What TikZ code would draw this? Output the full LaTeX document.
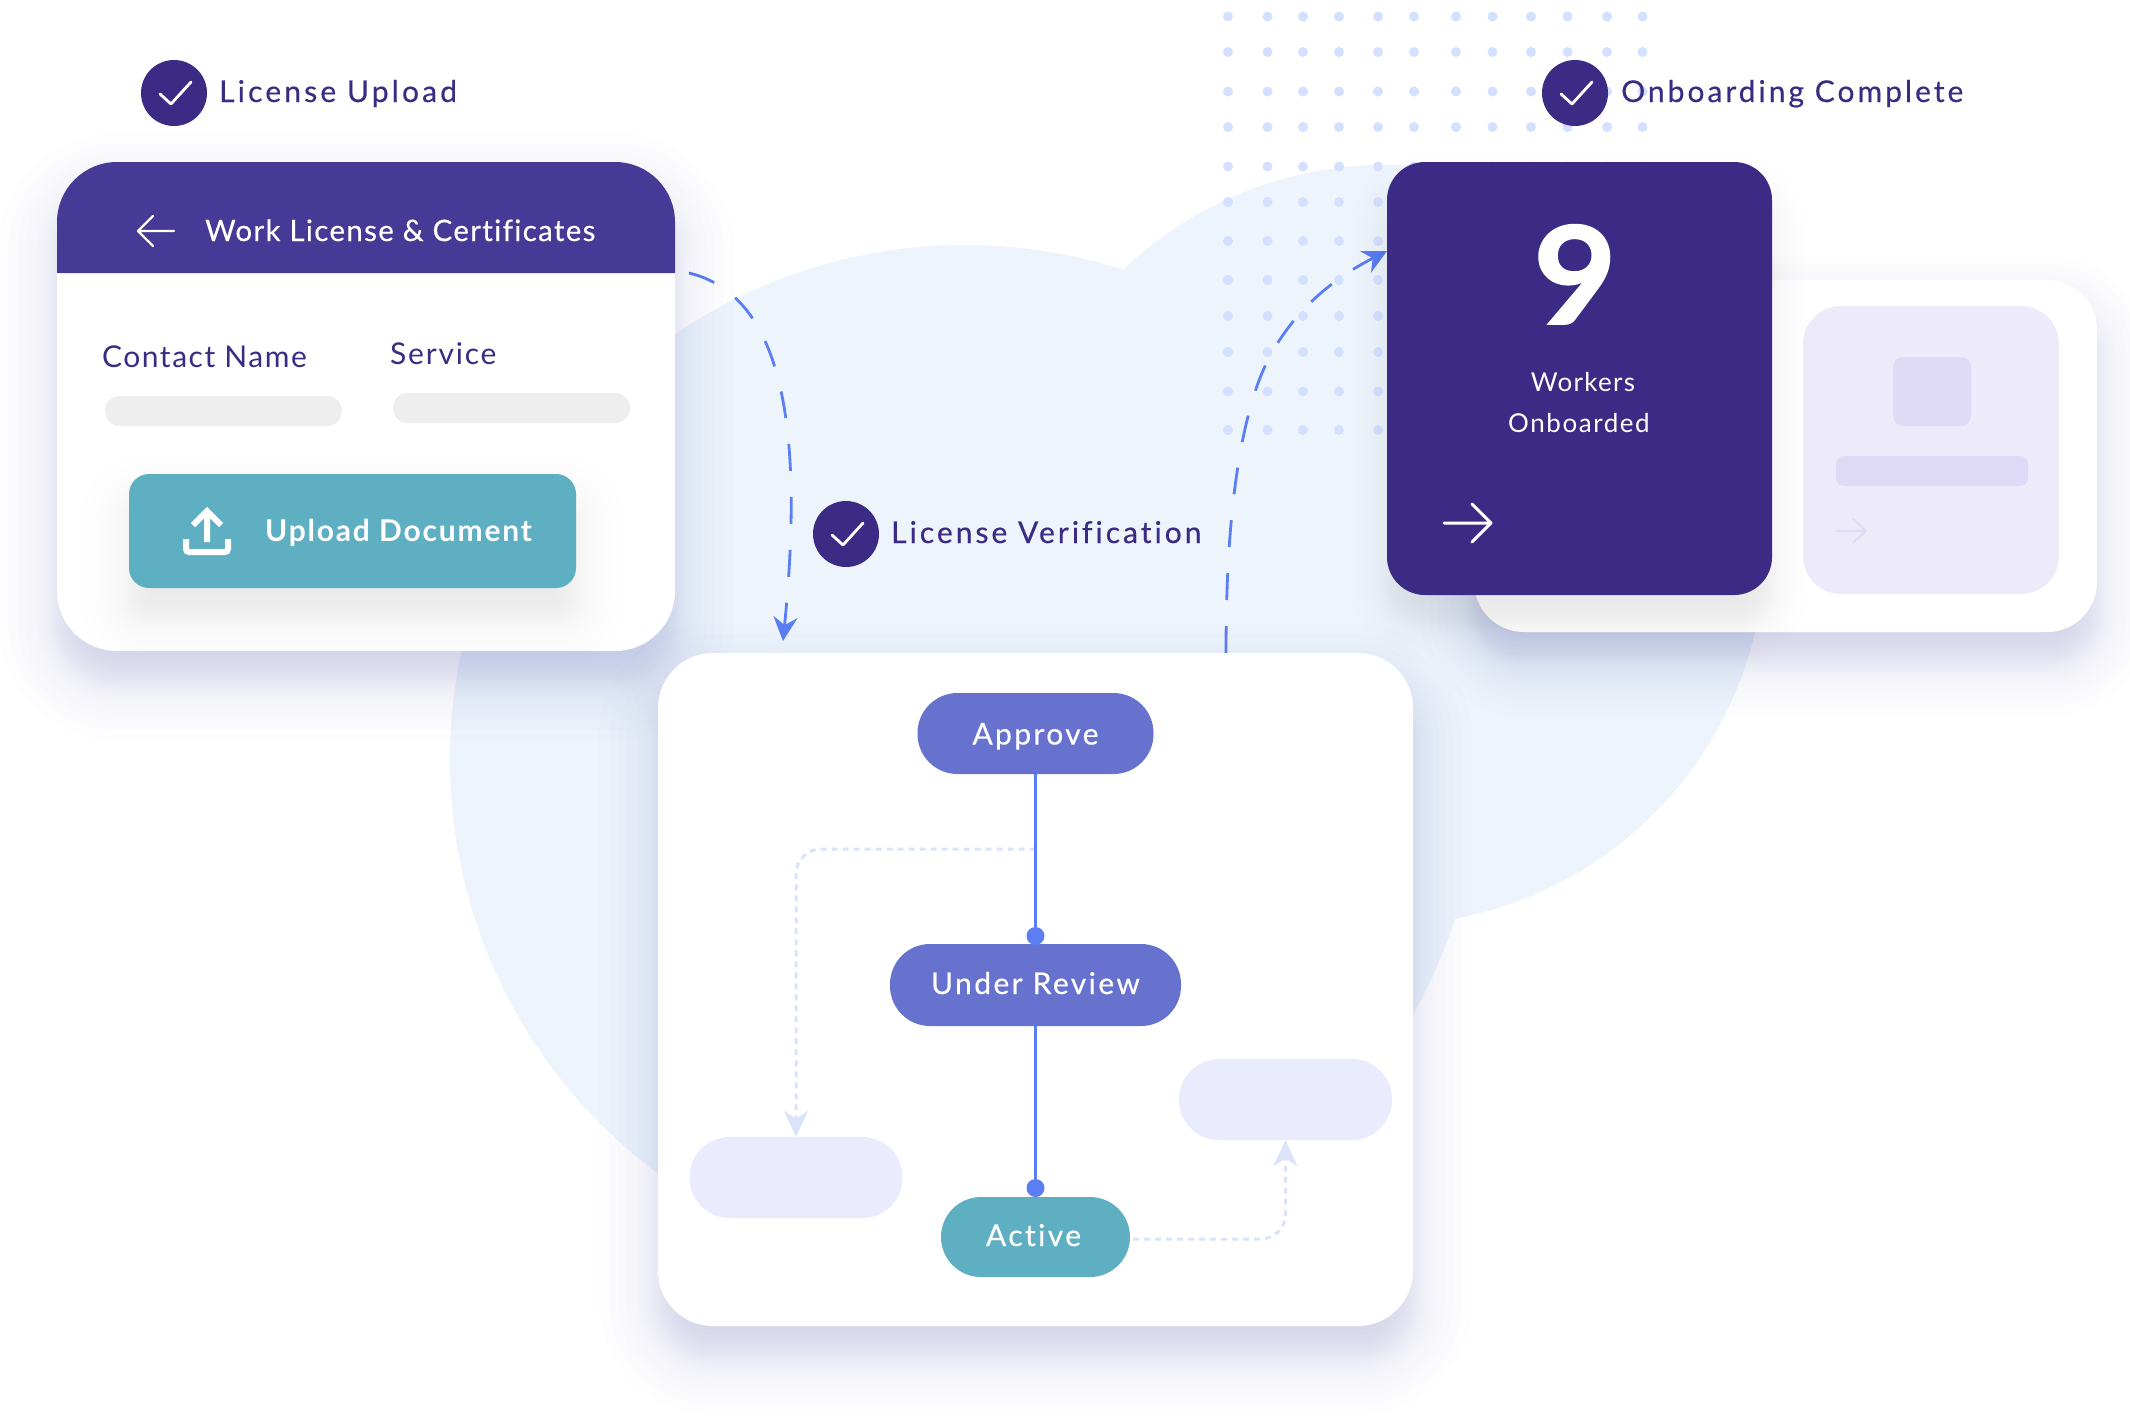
\documentclass[tikz,border=0pt]{standalone}
\usepackage{fontspec}
\setmainfont{Lato}
\usetikzlibrary{arrows.meta,calc}
\definecolor{blob}{HTML}{EDF4FB}
\definecolor{dotc}{HTML}{D3E0FF}
\definecolor{deep}{HTML}{3B2B84}
\definecolor{head}{HTML}{473A96}
\definecolor{teal}{HTML}{5FAFC2}
\definecolor{pillc}{HTML}{6772CE}
\definecolor{ghost}{HTML}{EAECFD}
\definecolor{flow}{HTML}{5B7FF2}
\definecolor{lightflow}{HTML}{DBE3FB}
\definecolor{bar}{HTML}{EEEEEE}
\definecolor{lilac}{HTML}{EDEBF9}
\definecolor{lilacd}{HTML}{DFDBF6}
\newcommand\T[3]{{\fontsize{#1pt}{#1pt}\selectfont\addfontfeatures{LetterSpace=#2,FakeBold=0.4,RawFeature=-liga}#3}}
\newcommand\Tl[3]{{\fontsize{#1pt}{#1pt}\selectfont\addfontfeatures{LetterSpace=#2,RawFeature=-liga}#3}}
\newcommand\softshadow[8]{%
  \foreach \k in {0,...,23}{%
    \pgfmathsetmacro\uu{1-(\k+0.5)/12}%
    \pgfmathsetmacro\ee{#6*(0.4*\uu+0.6*\uu*\uu*\uu)}%
    \pgfmathsetmacro\rr{max(#5+\ee,1)}%
    \fill[#8,opacity=#7/24,rounded corners=\rr pt]
      ({#1-\ee},{#2-\ee+30}) rectangle ({#3+\ee},{#4+\ee+30});
  }}
\newcommand\checkbadge[3]{%
  \node[badge] (#1) at (#2,#3) {};
  \draw[white,line width=2.8pt,line cap=round,line join=round]
    ($(#1)+(-14,1)$) -- ($(#1)+(-3,11)$) -- ($(#1)+(17,-11)$);}
\tikzset{
  badge/.style={circle,fill=deep,minimum size=66pt,inner sep=0},
  lab/.style={anchor=base west,inner sep=0,text=deep},
  cen/.style={anchor=base,inner sep=0,text=white},
  pill/.style={inner sep=0,minimum height=81pt,rounded corners=40pt,text=white,text height=20pt,text depth=0pt,align=center},
  fdot/.style={circle,fill=flow,minimum size=18pt,inner sep=0},
  dashflow/.style={draw=flow,line width=2.8pt,dash pattern=on 27pt off 26pt,
     -{Stealth[length=24pt,width=24pt,inset=8pt,flow]}},
  lightarrow/.style={draw=lightflow,line width=3pt,dash pattern=on 6pt off 5pt,rounded corners=25pt,
     -{Stealth[length=26pt,width=24pt,inset=8pt,lightflow]}},
}
\begin{document}
\begin{tikzpicture}[x=1pt,y=-1pt]
\useasboundingbox (0,0) rectangle (2130,1419);
\fill[white] (0,0) rectangle (2130,1419);
% background blobs
\fill[blob] (965,760) circle[radius=515pt];
\fill[blob] (1385,545) circle[radius=380pt];
% dots
\foreach \yy in {16.5,52,91.5,127,166.5,202,241,280,316,352,391.5,430}
  \foreach \xx in {1228,1267.5,1303,1339,1378,1414,1456,1492.5,1531,1567.5,1607,1642.5}
    \fill[dotc] (\xx,\yy) circle[radius=5pt];
% dashed connectors
\coordinate (s1) at (689,273);
\coordinate (e1) at (783,641);
\draw[dashflow] (s1) .. controls (780,295) and (805,420) .. (e1);
\coordinate (s2) at (1226,653);
\coordinate (m2) at (1257,386);
\coordinate (e2) at (1387,251);
\draw[dashflow] (s2) .. controls (1226,540) and (1235,450) .. (m2) .. controls (1280,320) and (1330,280) .. (e2);
% shadows
\softshadow{57}{162}{675}{651}{60}{65}{0.2}{deep}
\softshadow{658}{653}{1413}{1326}{55}{65}{0.2}{deep}
\softshadow{1474}{280}{2097}{632}{50}{60}{0.2}{deep}
% card 1
\node[fill=white,inner sep=0,minimum width=618pt,minimum height=489pt,rounded corners=60pt] (card1) at (366,406.5) {};
\fill[head] (57,273) {[rounded corners=60pt] -- (57,162) -- (675,162)} -- (675,273) -- cycle;
\draw[white,line width=2.4pt,line cap=round,line join=round] (174,231) -- (138,231) (153,216) -- (138,231) -- (153,246);
\node[lab,text=white] (cardtitle) at (205,241) {\T{29.5}{4.5}{Work License \& Certificates}};
\node[lab] (contact) at (102,367) {\Tl{30}{5}{Contact Name}};
\node[lab] (service) at (390,364) {\Tl{30}{6}{Service}};
\node[fill=bar,inner sep=0,minimum width=237pt,minimum height=30pt,rounded corners=15pt] (bar1) at (223.5,411) {};
\node[fill=bar,inner sep=0,minimum width=237pt,minimum height=30pt,rounded corners=15pt] (bar2) at (511.5,408) {};
% upload button
\softshadow{129}{474}{576}{588}{20}{55}{0.1}{teal}
\node[fill=teal,inner sep=0,minimum width=447pt,minimum height=114pt,rounded corners=20pt] (upload) at (352.5,531) {};
\draw[white,line width=6pt,line join=miter] (207,542) -- (207,512) (193,525) -- (207,511) -- (221,525);
\draw[white,line width=6pt,rounded corners=3pt] (186,539) -- (186,552) -- (228,552) -- (228,539);
\node[lab,text=white] (uploadlab) at (265,541) {\bfseries\Tl{30}{6}{Upload Document}};
% back card on the right
\node[fill=white,inner sep=0,minimum width=623pt,minimum height=352pt,rounded corners=50pt] (backcard) at (1785.5,456) {};
\node[fill=lilac,inner sep=0,minimum width=256pt,minimum height=288pt,rounded corners=38pt] (lightcard) at (1931,450) {};
\node[fill=lilacd,inner sep=0,minimum width=78pt,minimum height=69pt,rounded corners=10pt] (square) at (1932,391.5) {};
\node[fill=lilacd,inner sep=0,minimum width=192pt,minimum height=30pt,rounded corners=8pt] (lbar) at (1932,471) {};
\draw[lilacd,line width=2pt,line cap=round,line join=round] (1836,531) -- (1866,531) (1853,519) -- (1866,531) -- (1853,543);
% dark card
\softshadow{1387}{162}{1772}{595}{38}{40}{0.14}{blue!60!deep}
\node[fill=deep,inner sep=0,minimum width=385pt,minimum height=433pt,rounded corners=38pt] (dark) at (1579.5,378.5) {};
\node[cen] (nine) at (1575,324) {\scalebox{1.06}[1]{\bfseries\fontsize{136pt}{136pt}\selectfont\addfontfeatures{FakeBold=1.2}9}};
\node[cen] (workers) at (1583,391) {\Tl{26}{5}{Workers}};
\node[cen] (onboarded) at (1579,432) {\Tl{26}{6}{Onboarded}};
\draw[white,line width=3pt,line cap=round,line join=round] (1444,523) -- (1491,523) (1472,504) -- (1491,523) -- (1472,542);
% flow card
\node[fill=white,inner sep=0,minimum width=755pt,minimum height=673pt,rounded corners=55pt] (flowcard) at (1035.5,989.5) {};
\node[pill,fill=pillc,minimum width=236pt,text height=22pt] (approve) at (1035.5,733.5) {\T{30}{8}{Approve}};
\node[pill,fill=pillc,minimum width=291pt,minimum height=82pt,text height=18pt] (under) at (1035.5,985) {\T{30}{8}{Under Review}};
\node[pill,fill=teal,minimum width=189pt,minimum height=80pt,text height=18pt] (active) at (1035.5,1237) {\T{30}{8}{Active}\hspace*{4pt}};
\node[pill,fill=ghost,minimum width=213pt] (gleft) at (796,1177.5) {};
\node[pill,fill=ghost,minimum width=213pt] (gright) at (1285.5,1099.5) {};
\coordinate (branch) at (1035.5,849);
\coordinate (aout) at (1133,1239);
\draw[lightarrow] (branch) -| (gleft.north);
\draw[lightarrow] (aout) -| (gright.south);
\node[fdot] (d1) at (1035.5,936) {};
\node[fdot] (d2) at (1035.5,1188) {};
\draw[flow,line width=3pt] (approve.south) -- (d1);
\draw[flow,line width=3pt] (under.south) -- (d2);
% badges and headings
\checkbadge{b1}{174}{93}
\node[lab] (h1) at (219,102) {\T{30}{10.5}{License Upload}};
\checkbadge{b2}{846}{534}
\node[lab] (h2) at (891,543) {\T{30}{10}{License Verification}};
\checkbadge{b3}{1575}{93}
\node[lab] (h3) at (1621,102) {\T{30}{10}{Onboarding Complete}};
\end{tikzpicture}
\end{document}
